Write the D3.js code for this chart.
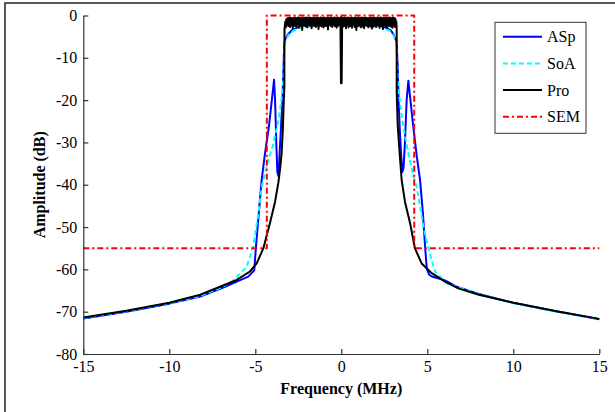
<!DOCTYPE html>
<html><head><meta charset="utf-8">
<script src="https://cdn.jsdelivr.net/npm/d3@7"></script>
<style>body{margin:0;background:#fff}svg{display:block}</style>
</head><body><svg id="c" width="615" height="412"></svg>
<script>
// ---------- data ----------
const xTicks = [-15, -10, -5, 0, 5, 10, 15];
const yTicks = [0, -10, -20, -30, -40, -50, -60, -70, -80];
const seriesNames = ["ASp", "SoA", "Pro", "SEM"];

// ASp (blue)
const aspPoints = [
  [-15,-71.6],[-12.5,-70.0],[-10,-68.1],[-8.2,-66.4],[-6.76,-64.1],[-6.08,-62.9],[-5.41,-61.7],
  [-5.06,-60.2],[-4.96,-54.6],[-4.83,-48.3],[-4.63,-38.9],[-4.45,-33],[-4.2,-26],[-3.91,-15.2],
  [-3.85,-20],[-3.78,-30],[-3.72,-37],[-3.65,-38],[-3.58,-32],[-3.5,-26],[-3.42,-20],[-3.36,-12],
  [-3.32,-7],[-3.25,-5.5],[-3.1,-4.5],[-2.9,-3.6],[-2.6,-2.9],[-2.2,-2.4],[-1.5,-2.0],[-0.5,-1.8],
  [0.5,-1.8],[1.5,-2.0],[2.2,-2.4],[2.6,-2.9],[2.9,-3.6],[3.05,-4.6],[3.18,-5.8],[3.22,-7],
  [3.28,-12],[3.33,-20],[3.4,-27],[3.48,-33],[3.55,-37],[3.62,-36],[3.7,-30],[3.8,-20],[3.9,-15.4],
  [4.15,-25],[4.38,-33],[4.58,-38.9],[4.75,-47],[4.87,-54.6],[4.97,-59.8],[5.1,-61.2],[5.26,-61.7],
  [6.03,-62.6],[6.7,-64.1],[8,-65.8],[10,-67.9],[12.5,-69.9],[15,-71.8]
];

// SoA (cyan dashed)
const soaPoints = [
  [-15,-71.5],[-12.5,-69.9],[-10,-68.0],[-8.2,-66.3],[-7,-64.3],[-6.3,-62.7],[-5.5,-59.4],
  [-5.12,-54.6],[-4.83,-47],[-4.6,-40],[-4.3,-35],[-4.0,-31],[-3.66,-25],[-3.45,-19],[-3.37,-15],
  [-3.33,-9],[-3.28,-6.5],[-3.1,-4.8],[-2.8,-3.6],[-2.3,-2.8],[-1.5,-2.4],[0,-2.3],
  [1.5,-2.4],[2.3,-2.8],[2.8,-3.6],[3.05,-4.8],[3.2,-6.5],[3.24,-10],[3.28,-16],[3.4,-20],
  [3.6,-26.3],[3.9,-32.6],[4.2,-38],[4.38,-40.5],[4.6,-45.5],[4.77,-49.9],[5.16,-56.5],
  [5.45,-60.5],[6.13,-63.3],[7,-64.5],[8,-65.9],[10,-68.0],[12.5,-70.0],[15,-71.8]
];

// Pro (black)
const proLeftSkirt = [
  [-15,-71.4],[-12.5,-69.8],[-10,-67.9],[-8.2,-66.0],[-7.05,-64.1],[-6.08,-62.5],[-5.31,-60.5],
  [-4.92,-58.6],[-4.53,-55],[-4.15,-49.1],[-3.85,-44],[-3.66,-39.5],[-3.55,-36],[-3.47,-32.6],
  [-3.4,-27],[-3.36,-22],[-3.31,-16.8],[-3.31,-8],[-3.3,-3]
];
const proBandLeftStart = -3.25;
const proBandRightStart = 0.075;
const proBandStep = 0.025;
const proBandLeft = [
  -1.4,-2.8,-0.9,-2.2,-0.7,-1.9,-0.6,-2.5,-0.8,-2.0,-0.5,-2.7,-0.7,-1.8,-0.6,-2.3,
  -0.9,-3.1,-0.6,-2.0,-0.7,-2.4,-0.5,-1.9,-0.8,-2.6,-0.6,-2.1,-0.7,-1.7,-0.5,-2.9,
  -0.6,-2.2,-0.8,-2.5,-0.6,-1.8,-0.7,-3.4,-0.5,-2.1,-0.9,-2.3,-0.6,-1.9,-0.7,-2.6,
  -0.5,-2.0,-0.8,-2.8,-0.6,-2.2,-0.7,-1.8,-0.5,-2.4,-0.9,-2.0,-0.6,-3.0,-0.7,-2.3,
  -0.6,-1.9,-0.5,-2.5,-0.8,-2.1,-0.6,-2.7,-0.7,-1.8,-0.5,-2.2,-0.9,-3.2,-0.6,-2.0,
  -0.7,-2.4,-0.5,-1.9,-0.8,-2.6,-0.6,-2.1,-0.7,-2.8,-0.5,-1.8,-0.8,-2.3,-0.6,-2.5,
  -0.7,-2.0,-0.5,-3.3,-0.8,-2.2,-0.6,-1.9,-0.7,-2.4,-0.5,-2.0,-0.9,-2.7,-0.6,-2.1,
  -0.7,-1.8,-0.5,-2.5,-0.8,-2.2,-0.6,-2.9,-0.7,-2.0,-0.5,-2.4,-0.8,-1.9,-0.6,-2.2
];
const proNotch = [[-0.05,-1.5],[-0.02,-16],[0.0,-0.3],[0.02,-16],[0.05,-1.2]];
const proBandRight = [
  -2.1,-0.6,-2.6,-0.8,-1.9,-0.5,-2.4,-0.7,-3.0,-0.6,-2.0,-0.9,-2.3,-0.5,-2.8,-0.7,
  -1.8,-0.6,-2.5,-0.8,-2.1,-0.5,-2.9,-0.7,-2.2,-0.6,-1.9,-0.9,-2.7,-0.5,-2.2,-0.7,
  -3.4,-0.6,-2.0,-0.8,-2.5,-0.5,-1.9,-0.7,-2.3,-0.6,-2.8,-0.8,-2.1,-0.5,-2.6,-0.7,
  -2.0,-0.6,-3.0,-0.9,-2.2,-0.5,-1.8,-0.7,-2.4,-0.6,-2.1,-0.8,-2.8,-0.6,-1.9,-0.7,
  -2.5,-0.5,-2.2,-0.8,-3.1,-0.6,-2.0,-0.7,-2.6,-0.5,-1.9,-0.9,-2.3,-0.6,-2.7,-0.7,
  -2.1,-0.5,-1.8,-0.8,-2.4,-0.6,-2.9,-0.7,-2.0,-0.5,-2.5,-0.8,-2.2,-0.6,-3.2,-0.7,
  -1.9,-0.6,-2.3,-0.8,-2.6,-0.5,-2.0,-0.7,-2.8,-0.6,-2.1,-0.9,-2.4,-0.5,-1.9,-0.7,
  -2.6,-0.6,-2.2,-0.8,-2.9,-0.5,-2.0,-0.7,-2.4,-0.6,-2.7,-0.8,-2.2,-1.4
];
const proRightSkirt = [
  [3.22,-3],[3.22,-10],[3.22,-18],[3.28,-26],[3.4,-33],[3.51,-38.9],[3.7,-44],[4.0,-49.1],
  [4.28,-55],[4.67,-58.6],[5.26,-60.9],[6.03,-62.9],[6.8,-64.5],[8,-66.0],[10,-67.9],
  [12.5,-69.9],[15,-71.7]
];

// SEM (red dash-dot)
const semPoints = [
  [-15,-55],[-4.33,-55],[-4.33,0],[4.24,0],[4.24,-55],[15,-55]
];

// ---------- build ----------
const proPoints = [
  ...proLeftSkirt,
  ...proBandLeft.map((v, i) => [proBandLeftStart + i * proBandStep, v]),
  ...proNotch,
  ...proBandRight.map((v, i) => [proBandRightStart + i * proBandStep, v]),
  ...proRightSkirt
];

const svg = d3.select("#c");
const x = d3.scaleLinear().domain([-15, 15]).range([83.3, 599.3]);
const y = d3.scaleLinear().domain([-80, 0]).range([354, 15.5]);
const font = "'Liberation Serif','Times New Roman',serif";

svg.append("rect").attr("width", 615).attr("height", 412).attr("fill", "#fff");
// outer frame (top & left)
svg.append("path").attr("d", "M5,412V3H615").attr("fill", "none").attr("stroke", "#222").attr("stroke-width", 1.5);

const line = d3.line().x(d => x(d[0])).y(d => y(d[1]));

const styles = {
  ASp: {data: aspPoints, color: "#0000ff", width: 2, dash: null},
  SoA: {data: soaPoints, color: "#00ffff", width: 2, dash: "5,3"},
  Pro: {data: proPoints, color: "#000000", width: 2, dash: null},
  SEM: {data: semPoints, color: "#ff0000", width: 2, dash: "6,3,2,3"}
};

seriesNames.forEach(n => {
  const s = styles[n];
  svg.append("path").datum(s.data)
    .attr("d", line).attr("fill", "none")
    .attr("stroke", s.color).attr("stroke-width", s.width)
    .attr("stroke-linejoin", "round")
    .attr("stroke-dasharray", s.dash);
});

// axes
const gx = svg.append("g").attr("transform", "translate(0,354)")
  .call(d3.axisBottom(x).tickValues(xTicks).tickSizeInner(-5).tickSizeOuter(0).tickPadding(7).tickFormat(d => String(d)));
const gy = svg.append("g").attr("transform", "translate(83.3,0)")
  .call(d3.axisLeft(y).tickValues(yTicks).tickSizeInner(-5).tickSizeOuter(0).tickPadding(6).tickFormat(d => String(d)));
[gx, gy].forEach(g => {
  g.selectAll("path,line").attr("stroke", "#333").attr("stroke-width", 1.2);
  g.selectAll("text").attr("font-family", font).attr("font-size", 16).attr("fill", "#000");
});

// axis labels
svg.append("text").attr("x", 341.3).attr("y", 394).attr("text-anchor", "middle")
  .attr("font-family", font).attr("font-size", 16).attr("font-weight", "bold").text("Frequency (MHz)");
svg.append("text").attr("transform", "translate(45,184.8) rotate(-90)").attr("text-anchor", "middle")
  .attr("font-family", font).attr("font-size", 16).attr("font-weight", "bold").text("Amplitude (dB)");

// legend
const lg = svg.append("g");
lg.append("rect").attr("x", 495).attr("y", 22.3).attr("width", 91).attr("height", 111)
  .attr("fill", "#fff").attr("stroke", "#333").attr("stroke-width", 1);
seriesNames.forEach((n, i) => {
  const s = styles[n];
  const cy = 36.7 + i * 26.7;
  lg.append("line").attr("x1", 503).attr("x2", 542).attr("y1", cy).attr("y2", cy)
    .attr("stroke", s.color).attr("stroke-width", 2).attr("stroke-dasharray", s.dash);
  lg.append("text").attr("x", 547).attr("y", cy + 5.5).attr("font-family", font)
    .attr("font-size", 16).attr("fill", "#000").text(n);
});
</script>
</body></html>
